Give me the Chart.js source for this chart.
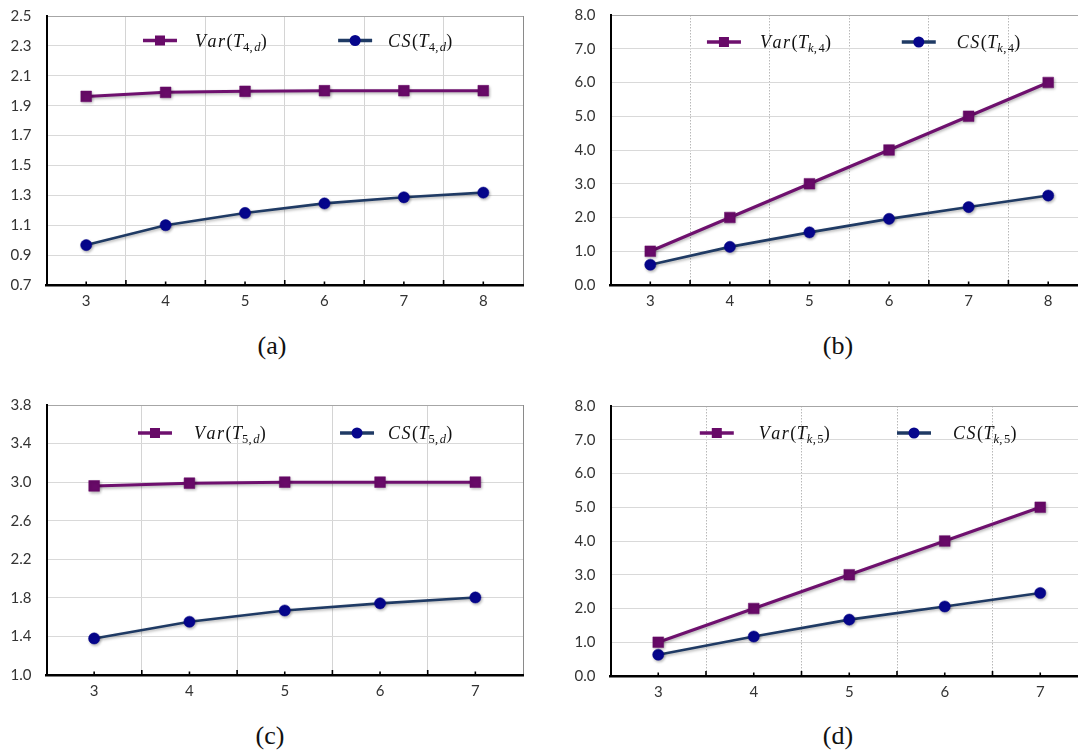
<!DOCTYPE html>
<html><head><meta charset="utf-8">
<script src="https://cdn.jsdelivr.net/npm/chart.js@4.4.1/dist/chart.umd.min.js"></script>
<style>
html,body{margin:0;padding:0;background:#fff;overflow:hidden;width:1078px;height:753px;position:relative;}
canvas{position:absolute;}
.cap{position:absolute;font-family:'Liberation Serif','DejaVu Serif',serif;font-size:26px;color:#111;transform:translate(-50%,-50%);white-space:nowrap;line-height:1;}
</style></head><body>
<canvas id="ca" width="540" height="320" style="left:0;top:0"></canvas>
<canvas id="cb" width="540" height="320" style="left:564px;top:0"></canvas>
<canvas id="cc" width="540" height="320" style="left:0;top:390px"></canvas>
<canvas id="cd" width="540" height="320" style="left:564px;top:390px"></canvas>
<div class="cap" style="left:272px;top:346px">(a)</div>
<div class="cap" style="left:838px;top:346px">(b)</div>
<div class="cap" style="left:270px;top:736px">(c)</div>
<div class="cap" style="left:838px;top:736px">(d)</div>
<script>
// ---- data ----
const catsA = ['3','4','5','6','7','8'];
const varA  = [1.962, 1.989, 1.996, 2.0, 2.0, 2.0];
const csA   = [0.967, 1.100, 1.182, 1.246, 1.287, 1.318];
const yMinA = 0.7, yMaxA = 2.5, yStepA = 0.2;
const legendA = [['Var','4,d'], ['CS','4,d']];

const catsB = ['3','4','5','6','7','8'];
const varB  = [1, 2, 3, 4, 5, 6];
const csB   = [0.60, 1.13, 1.56, 1.96, 2.31, 2.65];
const yMinB = 0, yMaxB = 8, yStepB = 1;
const legendB = [['Var','k,4'], ['CS','k,4']];

const catsC = ['3','4','5','6','7'];
const varC  = [2.961, 2.989, 3.0, 3.0, 3.0];
const csC   = [1.379, 1.552, 1.669, 1.743, 1.804];
const yMinC = 1.0, yMaxC = 3.8, yStepC = 0.4;
const legendC = [['Var','5,d'], ['CS','5,d']];

const catsD = ['3','4','5','6','7'];
const varD  = [1, 2, 3, 4, 5];
const csD   = [0.63, 1.17, 1.67, 2.06, 2.46];
const yMinD = 0, yMaxD = 8, yStepD = 1;
const legendD = [['Var','k,5'], ['CS','k,5']];

// ---- styles ----
const VAR_LINE = '#6e106e', VAR_PT = '#680a68';
const CS_LINE = '#1f3a64', CS_PT = '#06068c';
const TICK_FONT = {family: 'Lato, "Open Sans", sans-serif', size: 15};

function drawMath(ctx, x, yBase, name, sub) {
  const F = 18, S = 12.5;
  const fam = '"Liberation Serif", "DejaVu Serif", serif';
  ctx.fillStyle = '#111';
  ctx.textBaseline = 'alphabetic';
  ctx.textAlign = 'left';
  const seq = [];
  seq.push([name, `italic ${F}px ${fam}`, 0, 1.5]);
  seq.push(['(', `${F}px ${fam}`, 0, 0.5]);
  seq.push(['T', `italic ${F}px ${fam}`, 0, 0]);
  for (const ch of sub) {
    const isLetter = /[a-z]/.test(ch);
    seq.push([ch, (isLetter ? 'italic ' : '') + `${S}px ${fam}`, 4, ch === ',' ? 1.5 : 0.3]);
  }
  seq.push([')', `${F}px ${fam}`, 0, 0]);
  let cx = x;
  for (const [t, f, dy, gap] of seq) {
    ctx.font = f;
    if (t.length > 1) {
      for (const c of t) { ctx.fillText(c, cx, yBase + dy); cx += ctx.measureText(c).width + gap; }
    } else {
      ctx.fillText(t, cx, yBase + dy); cx += ctx.measureText(t).width + gap;
    }
  }
}

const legendPlugin = {
  id: 'mathLegend',
  afterDraw(chart, args, opts) {
    const ctx = chart.ctx, a = chart.chartArea;
    const y = a.top + opts.dy;
    ctx.save();
    opts.items.forEach((it, i) => {
      const ds = chart.data.datasets[i];
      const x0 = a.left + (a.right - a.left) * opts.fx[i];
      ctx.strokeStyle = ds.borderColor;
      ctx.lineWidth = 3.5;
      ctx.beginPath(); ctx.moveTo(x0, y); ctx.lineTo(x0 + 34, y); ctx.stroke();
      ctx.fillStyle = ds.pointBackgroundColor;
      if (ds.pointStyle === 'rect') {
        ctx.fillRect(x0 + 17 - 5, y - 5, 10, 10);
      } else {
        ctx.beginPath(); ctx.arc(x0 + 17, y, 5.5, 0, Math.PI * 2); ctx.fill();
      }
      drawMath(ctx, x0 + opts.tx[i], y + 6, it[0], it[1]);
    });
    ctx.restore();
  }
};

const tickMarks = {
  id: 'tickMarks',
  afterDraw(chart) {
    const xs = chart.scales.x, ctx = chart.ctx, b = chart.chartArea.bottom;
    const n = chart.data.labels.length;
    const half = (xs.getPixelForValue(1) - xs.getPixelForValue(0)) / 2;
    ctx.save();
    ctx.strokeStyle = '#000'; ctx.lineWidth = 1.6;
    for (let i = 0; i < n; i++) {
      const px = xs.getPixelForValue(i);
      ctx.beginPath(); ctx.moveTo(px, b); ctx.lineTo(px, b - 3.5); ctx.stroke();
      if (i < n - 1) {
        ctx.beginPath(); ctx.moveTo(px + half, b); ctx.lineTo(px + half, b - 5); ctx.stroke();
      }
    }
    ctx.restore();
  }
};

const shadowPlugin = {
  id: 'shadow',
  beforeDatasetsDraw(chart) {
    const c = chart.ctx; c.save();
    c.shadowColor = 'rgba(0,0,0,0.3)'; c.shadowBlur = 3; c.shadowOffsetX = 1; c.shadowOffsetY = 1.5;
  },
  afterDatasetsDraw(chart) { chart.ctx.restore(); }
};

function makeChart(id, cats, v, cs, yMin, yMax, yStep, legend, geo) {
  const dec = 1;
  new Chart(document.getElementById(id), {
    type: 'line',
    data: {
      labels: cats,
      datasets: [
        {label: 'Var', data: v, borderColor: VAR_LINE, borderWidth: 3, pointStyle: 'rect',
         pointRadius: 7.6, pointBackgroundColor: VAR_PT, pointBorderColor: VAR_PT, pointBorderWidth: 0.5,
         tension: 0, fill: false},
        {label: 'CS', data: cs, borderColor: CS_LINE, borderWidth: 2.6, pointStyle: 'circle',
         pointRadius: 5.6, pointBackgroundColor: CS_PT, pointBorderColor: CS_PT, pointBorderWidth: 0.5,
         tension: 0, fill: false}
      ]
    },
    options: {
      responsive: false, animation: false, devicePixelRatio: 1,
      layout: {padding: {top: geo.top, right: geo.right, left: 0, bottom: 0}},
      plugins: {
        legend: {display: false}, tooltip: {enabled: false},
        mathLegend: {items: legend, fx: geo.fx, tx: geo.tx, dy: geo.dy}
      },
      scales: {
        x: {
          type: 'category', offset: true,
          afterFit: s => { s.height = geo.xh; s.paddingLeft = 0; s.paddingRight = 0; },
          grid: {offset: true, drawTicks: false, lineWidth: 1,
                 color: c => (c.index === undefined ? '#8a8a8a' : geo.vgrid)},
          border: {display: true, color: '#000', width: 2.5, dash: geo.dash},
          ticks: {padding: 7, color: '#333', font: TICK_FONT}
        },
        y: {
          min: yMin, max: yMax,
          afterFit: s => { s.width = 46.5; s.paddingTop = 0; s.paddingBottom = 0; },
          afterBuildTicks: s => {
            const t = [];
            for (let k = 0; yMin + k * yStep <= yMax + 1e-9; k++) t.push({value: +(yMin + k * yStep).toFixed(6)});
            s.ticks = t;
          },
          grid: {drawTicks: false, lineWidth: 1,
                 color: c => (c.tick && Math.abs(c.tick.value - yMax) < 1e-6 ? '#a6a6a6' : '#d9d9d9')},
          border: {display: true, color: '#000', width: 2},
          ticks: {padding: 15, color: '#333', font: TICK_FONT, callback: val => Number(val).toFixed(dec)}
        }
      }
    },
    plugins: [shadowPlugin, tickMarks, legendPlugin]
  });
}

makeChart('ca', catsA, varA, csA, yMinA, yMaxA, yStepA, legendA,
  {top: 16, right: 17, xh: 35, vgrid: '#d4d4d4', dash: [], fx: [0.2025, 0.612], tx: [52, 50], dy: 24.5});
makeChart('cb', catsB, varB, csB, yMinB, yMaxB, yStepB, legendB,
  {top: 15, right: 16, xh: 35, vgrid: '#b8b8b8', dash: [1.5, 1.5], fx: [0.202, 0.61], tx: [53, 55], dy: 27});
makeChart('cc', catsC, varC, csC, yMinC, yMaxC, yStepC, legendC,
  {top: 15, right: 17, xh: 35, vgrid: '#d4d4d4', dash: [], fx: [0.192, 0.616], tx: [56, 48], dy: 28});
makeChart('cd', catsD, varD, csD, yMinD, yMaxD, yStepD, legendD,
  {top: 16, right: 16, xh: 34, vgrid: '#b8b8b8', dash: [1.5, 1.5], fx: [0.187, 0.60], tx: [59, 56], dy: 27});
</script>
</body></html>
